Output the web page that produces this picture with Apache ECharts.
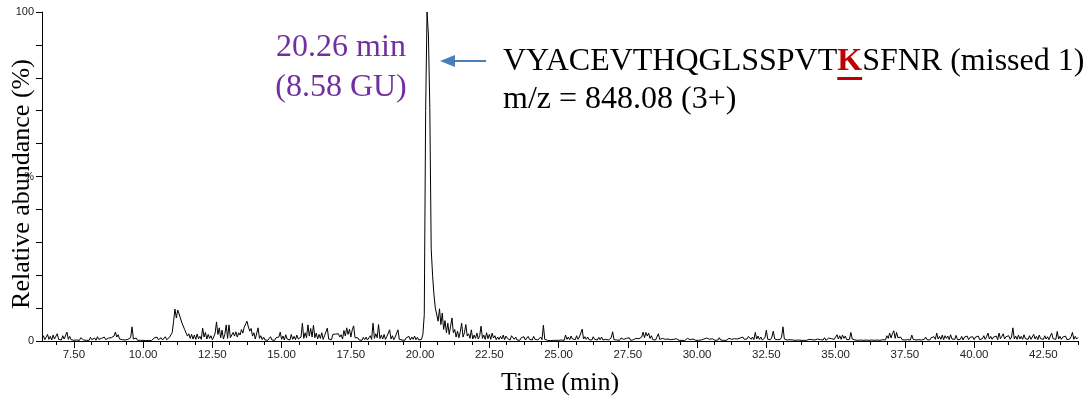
<!DOCTYPE html>
<html>
<head>
<meta charset="utf-8">
<script src="https://cdn.jsdelivr.net/npm/echarts@6/dist/echarts.min.js"></script>
<style>
html,body{margin:0;padding:0;background:#fff;}
#chart{width:1090px;height:402px;}
</style>
</head>
<body>
<div id="chart"></div>
<script>
// ---- data ----
// Relative abundance (%), sampled every 0.05 min.
// Row 0 starts at 6.35 min, row k (k>=1) starts at (6 + k) min.
const firstRowStart = 6.35;
const sampleStep = 0.05;
const intensityRows = [
  [0.8,1.6,0.4,1.2,2.0,0.5,1.4,0.3,1.8,0.6,1.1,2.2,0.5],                                  // 6.35-6.95
  [1.0,0.3,1.6,0.6,1.2,2.7,0.5,1.4,0.4,0.9,0.2,0.6,0.3,0.8,0.2,1.0,0.4,0.3,0.7,0.2],      // 7
  [0.5,0.2,1.1,0.4,0.3,0.9,0.2,1.3,0.5,0.3,0.8,0.2,1.2,0.4,0.2,0.9,0.3,1.0,0.6,1.5],      // 8
  [2.7,1.2,1.9,0.6,1.2,0.4,1.0,0.3,0.8,0.5,0.3,1.0,4.3,0.6,0.3,0.9,0.2,0.5,0.2,0.3],      // 9
  [0.2,0.4,0.1,0.3,0.2,0.5,0.1,0.2,0.9,0.3,1.2,0.4,0.2,1.0,0.3,0.6,1.3,0.4,0.2,1.1],      // 10
  [0.6,2.5,6.0,9.7,7.0,9.4,8.2,7.9,5.5,6.0,3.5,4.0,1.5,2.2,0.8,2.0,0.6,1.8,0.5,2.1],      // 11
  [0.7,1.4,0.5,3.9,1.2,2.6,0.6,2.0,0.8,1.6,0.4,1.2,2.4,5.8,2.0,4.0,1.0,3.3,0.6,2.0],      // 12
  [4.9,0.8,4.9,1.0,0.5,2.6,1.5,2.8,1.2,2.5,1.8,3.5,2.4,4.2,3.8,6.0,4.3,3.0,3.8,1.5],      // 13
  [2.5,0.6,1.2,4.0,0.8,1.6,0.4,1.2,0.3,0.9,0.2,0.5,1.3,0.3,0.8,0.2,1.0,0.4,1.2,2.7],      // 14
  [0.5,1.5,0.3,1.9,0.6,1.2,0.3,2.0,0.5,1.4,0.4,1.8,0.6,0.3,1.2,5.4,0.8,2.5,1.0,4.9],      // 15
  [1.5,3.8,1.2,4.8,1.0,2.4,0.6,2.0,0.8,2.5,0.5,1.6,1.0,3.9,0.6,1.2,0.4,2.0,1.4,2.1],      // 16
  [1.8,2.2,1.2,1.9,0.6,3.2,1.5,4.0,2.0,3.6,1.2,3.4,4.6,1.0,0.4,1.0,0.3,0.8,0.2,1.1],      // 17
  [0.4,1.2,0.3,0.9,1.6,0.5,5.4,0.8,2.2,1.0,5.0,0.7,1.8,0.6,2.0,0.5,1.4,0.8,3.4,0.6],      // 18
  [1.6,0.4,1.2,0.8,3.4,0.5,1.0,0.3,0.8,0.2,1.0,0.4,1.4,0.3,1.2,0.5,1.5,0.4,1.1,0.3],      // 19
  [0.8,0.5,2.0,8,70,100,93,71,28,20,14,10,10.3,6,9.8,5,8.5,3.5,6.2,2.5],                  // 20
  [5.4,2.0,4.5,7.0,2.5,3.5,1.2,3.0,1.0,2.8,5.4,1.2,2.5,5.0,1.5,2.2,0.8,3.4,0.6,1.8],      // 21
  [0.8,2.4,0.6,1.6,4.5,0.8,1.8,0.5,2.5,0.7,2.0,0.5,2.4,0.9,1.6,0.4,1.2,0.5,1.4,0.6],      // 22
  [1.8,0.4,1.5,0.8,1.2,0.3,1.6,2.2,0.5,1.2,0.3,0.9,0.2,1.0,0.4,1.3,0.3,0.8,1.4,0.5],      // 23
  [1.0,0.3,1.4,0.5,1.1,0.3,0.8,1.2,0.4,4.8,0.5,0.3,0.2,0.4,0.1,0.3,0.2,0.5,0.2,0.3],      // 24
  [0.2,0.4,0.3,0.6,0.2,1.8,0.5,1.2,0.4,1.5,0.6,1.0,0.4,1.6,0.5,1.2,0.8,3.6,0.6,1.3],      // 25
  [0.5,1.2,0.4,1.0,0.3,1.3,0.5,0.9,0.3,1.1,0.4,1.2,0.3,0.8,0.5,1.0,0.3,0.6,1.0,2.8],      // 26
  [0.4,1.0,0.3,0.6,0.2,0.9,0.3,0.5,0.2,0.8,0.3,1.0,0.2,0.6,0.4,0.3,0.8,0.2,0.7,0.4],      // 27
  [1.2,2.7,1.0,2.6,1.5,2.4,0.8,1.6,0.4,0.9,0.3,0.8,2.2,0.5,0.3,0.8,0.2,0.5,0.2,0.6],      // 28
  [0.2,0.4,0.1,0.5,0.2,0.7,0.3,0.2,0.6,0.2,0.4,0.1,0.3,0.8,0.2,0.4,0.2,0.6,0.3,0.2],      // 29
  [0.5,0.2,0.8,0.3,0.2,0.6,0.2,0.9,0.3,0.5,0.2,0.7,0.4,0.2,0.6,0.3,1.0,0.3,0.5,0.2],      // 30
  [0.6,0.2,0.4,0.8,0.2,0.5,0.3,0.7,0.2,0.6,0.3,0.9,0.4,1.2,0.5,1.0,0.6,1.4,1.9,0.5],      // 31
  [1.2,0.4,2.6,0.6,1.5,0.5,1.2,0.3,0.8,1.0,3.3,0.5,1.0,0.4,1.2,3.0,0.6,1.0,0.4,0.8],      // 32
  [0.5,1.2,4.3,0.6,0.9,0.3,0.8,0.4,1.0,0.3,0.6,0.2,0.8,0.3,0.5,0.2,0.4,0.2,0.6,0.2],      // 33
  [0.3,0.5,0.2,0.4,0.1,0.3,0.2,0.6,0.2,0.4,0.8,0.3,1.0,0.2,0.6,0.9,0.3,0.7,0.2,0.5],      // 34
  [0.4,1.9,0.6,1.6,0.5,1.8,0.8,1.5,0.4,1.0,0.5,2.6,0.6,1.0,0.3,0.8,0.2,0.7,0.3,0.6],      // 35
  [0.2,0.5,0.3,0.8,0.2,0.6,0.3,0.4,0.2,0.7,0.3,0.5,0.2,0.6,0.4,0.9,0.3,1.6,0.8,2.4],      // 36
  [0.9,2.2,3.1,0.8,2.6,1.0,0.5,1.2,0.4,0.9,0.3,0.8,0.4,1.0,0.3,1.8,0.5,0.9,0.3,0.7],      // 37
  [0.4,1.0,0.3,0.8,0.5,1.2,0.4,0.9,0.3,1.0,0.6,1.3,0.5,2.4,0.6,1.4,0.5,1.8,0.4,1.6],      // 38
  [0.8,1.5,0.4,1.9,0.6,1.2,0.5,1.7,0.4,1.0,0.5,1.4,0.3,1.2,0.6,1.5,0.4,1.1,0.5,1.3],      // 39
  [0.4,1.2,0.6,1.5,0.4,1.0,0.7,1.6,0.5,1.3,2.4,0.6,1.4,0.5,1.2,0.8,1.5,0.4,2.4,0.7],      // 40
  [1.4,2.2,0.6,1.3,0.8,1.6,0.5,1.2,4.0,0.6,1.5,0.5,1.8,0.6,1.4,0.5,1.9,0.7,1.3,0.5],      // 41
  [1.6,0.5,1.2,2.0,0.6,1.4,0.4,1.8,0.7,1.1,0.5,1.6,0.6,1.3,0.4,1.5,2.4,0.7,1.2,0.5],      // 42
  [2.9,0.6,1.4,0.5,1.2,0.8,1.5,0.4,1.0,0.6,1.3,2.6,0.5,1.4,0.6,1.1]                       // 43.00-43.75
];

const xAxisMin = 6.35;
const xAxisMax = 43.75;
const xLabelValues = [7.5,10,12.5,15,17.5,20,22.5,25,27.5,30,32.5,35,37.5,40,42.5];
const xMinorTickStep = 0.625;
const yLabelText = {0:'0', 50:'%', 100:'100'};
const xTitle = 'Time (min)';
const yTitle = 'Relative abundance (%)';
const peakTimeLabel = '20.26 min';
const peakGuLabel = '(8.58 GU)';
const peptideParts = ['VYACEVTHQGLSSPVT', 'K', 'SFNR (missed 1)'];
const mzLabel = 'm/z = 848.08 (3+)';

// ---- build series data ----
const traceData = [];
intensityRows.forEach((row, r) => {
  const start = r === 0 ? firstRowStart : 6 + r;
  row.forEach((v, j) => traceData.push([+(start + j * sampleStep).toFixed(2), v]));
});

const minorTicks = [];
for (let k = Math.ceil(xAxisMin / xMinorTickStep); k * xMinorTickStep <= xAxisMax; k++) {
  minorTicks.push(+(k * xMinorTickStep).toFixed(3));
}

const SERIF = '"Liberation Serif","Times New Roman",serif';
const SANS = '"Liberation Sans",Arial,sans-serif';

// measure text for the underline under the missed-cleavage K
const cv = document.createElement('canvas').getContext('2d');
cv.font = '32px ' + SERIF;
const preW = cv.measureText(peptideParts[0]).width;
cv.font = 'bold 32px ' + SERIF;
const kW = cv.measureText(peptideParts[1]).width;

const pepX = 503;

const chart = echarts.init(document.getElementById('chart'), null, {renderer: 'canvas'});
chart.setOption({
  animation: false,
  backgroundColor: '#fff',
  grid: {left: 42, right: 12, top: 12, bottom: 61},
  xAxis: [{
    type: 'value', min: xAxisMin, max: xAxisMax,
    axisLine: {show: true, lineStyle: {color: '#000', width: 1}},
    axisTick: {show: true, customValues: minorTicks, length: 4, lineStyle: {color: '#000'}},
    axisLabel: {customValues: xLabelValues, formatter: v => v.toFixed(2), fontSize: 11.5,
      color: '#222', fontFamily: SANS, margin: 8},
    splitLine: {show: false}
  }, {
    type: 'value', position: 'bottom', min: xAxisMin, max: xAxisMax,
    axisLine: {show: true, lineStyle: {color: '#000', width: 1}},
    axisTick: {show: true, customValues: xLabelValues, length: 7, lineStyle: {color: '#000'}},
    axisLabel: {show: false},
    splitLine: {show: false}
  }],
  yAxis: {
    type: 'value', min: 0, max: 100, interval: 10,
    axisLine: {show: true, lineStyle: {color: '#000', width: 1}},
    axisTick: {show: true, length: 6, lineStyle: {color: '#000'}},
    axisLabel: {formatter: v => (yLabelText[v] !== undefined ? yLabelText[v] : ''),
      fontSize: 11, color: '#222', fontFamily: SANS, margin: 8},
    splitLine: {show: false}
  },
  series: [{
    type: 'line', data: traceData, xAxisIndex: 0, yAxisIndex: 0,
    showSymbol: false, symbol: 'none', sampling: null,
    lineStyle: {color: '#000', width: 1}
  }],
  graphic: [
    {type: 'text', x: 22, y: 184, rotation: Math.PI / 2,
      style: {text: yTitle, font: '26px ' + SERIF, fill: '#000', align: 'center', verticalAlign: 'middle'}},
    {type: 'text', x: 560, y: 383,
      style: {text: xTitle, font: '26px ' + SERIF, fill: '#000', align: 'center', verticalAlign: 'middle'}},
    {type: 'text', x: 341, y: 48,
      style: {text: peakTimeLabel, font: '32px ' + SERIF, fill: '#7030A0', align: 'center', verticalAlign: 'middle'}},
    {type: 'text', x: 341, y: 88,
      style: {text: peakGuLabel, font: '32px ' + SERIF, fill: '#7030A0', align: 'center', verticalAlign: 'middle'}},
    {type: 'line', shape: {x1: 486, y1: 61, x2: 452, y2: 61},
      style: {stroke: '#4A7EBB', lineWidth: 2}},
    {type: 'polygon', shape: {points: [[440, 61], [455, 55], [455, 67]]},
      style: {fill: '#4A7EBB'}},
    {type: 'text', x: pepX, y: 62,
      style: {
        text: '{n|' + peptideParts[0] + '}{k|' + peptideParts[1] + '}{n|' + peptideParts[2] + '}',
        align: 'left', verticalAlign: 'middle',
        rich: {
          n: {fontSize: 32, fontFamily: SERIF, fill: '#000', color: '#000'},
          k: {fontSize: 32, fontFamily: SERIF, fontWeight: 'bold', fill: '#C00000', color: '#C00000'}
        }
      }},
    {type: 'rect', shape: {x: pepX + preW, y: 77, width: kW, height: 3},
      style: {fill: '#C00000'}},
    {type: 'text', x: pepX, y: 100,
      style: {text: mzLabel, font: '32px ' + SERIF, fill: '#000', align: 'left', verticalAlign: 'middle'}}
  ]
});
</script>
</body>
</html>
